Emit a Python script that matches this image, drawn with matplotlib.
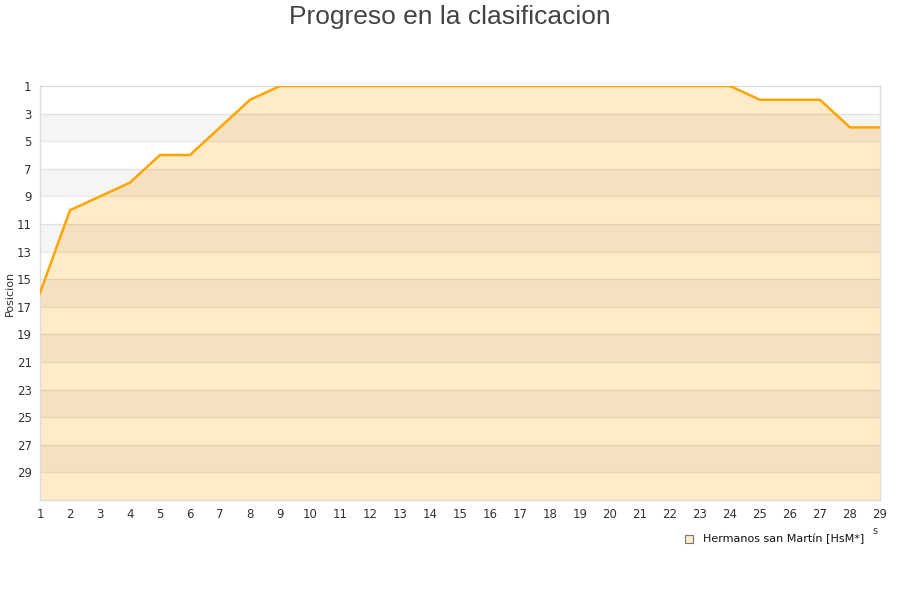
import numpy as np
import matplotlib
matplotlib.use('Agg')
import matplotlib.pyplot as plt

# jornadas y posiciones
jornadas = list(range(1, 30))
posiciones = [16, 10, 9, 8, 6, 6, 4, 2, 1, 1, 1, 1, 1, 1, 1, 1, 1, 1, 1, 1,
              1, 1, 1, 1, 2, 2, 2, 4, 4]
ytick_vals = list(range(1, 30, 2))
equipo = 'Hermanos san Martín [HsM*]'
titulo = 'Progreso en la clasificacion'

fill_col = '#FFEBC8'
line_col = '#FFA500'

fig = plt.figure(figsize=(9, 6), dpi=100)
ax = fig.add_axes([40/900, 1 - 500/600, 840/900, 414/600])

ax.fill_between(jornadas, posiciones, 31, color=fill_col, lw=0, zorder=1)
# bandas alternas
for lo in range(3, 31, 4):
    ax.axhspan(lo, lo + 2, color='black', alpha=0.04, lw=0, zorder=2)
for v in range(3, 31, 2):
    ax.axhline(v, color='#000000', alpha=0.08, lw=1, zorder=2)
ax.plot(jornadas, posiciones, color=line_col, lw=1.8, zorder=3)

ax.set_xlim(1, 29)
ax.set_ylim(31, 1)
ax.set_xticks(jornadas)
ax.set_yticks(ytick_vals)
ax.tick_params(length=0, labelsize=8.5, colors='#333333', pad=6)
for s in ax.spines.values():
    s.set_color('#DDDDDD')
    s.set_linewidth(1)

ax.set_ylabel('Posicion', fontsize=8, color='#333333')
ax.yaxis.set_label_coords(-25/840, 0.5)

fig.text(0.5, 1 - 17/600, titulo, ha='center', va='center', fontsize=19,
         color='#444444', family=['Liberation Sans', 'DejaVu Sans'])
fig.text(875/900, 1 - 531/600, 's', ha='center', va='center', fontsize=7, color='#333333')

# leyenda
fig.patches.append(plt.Rectangle((685/900, 1 - 543/600), 8/900, 8/600,
                                 transform=fig.transFigure, facecolor=fill_col,
                                 edgecolor='#777777', lw=0.8))
fig.text(703/900, 1 - 539/600, equipo, ha='left', va='center', fontsize=8, color='#111111')

fig.savefig('out.png', dpi=100, facecolor='white')
